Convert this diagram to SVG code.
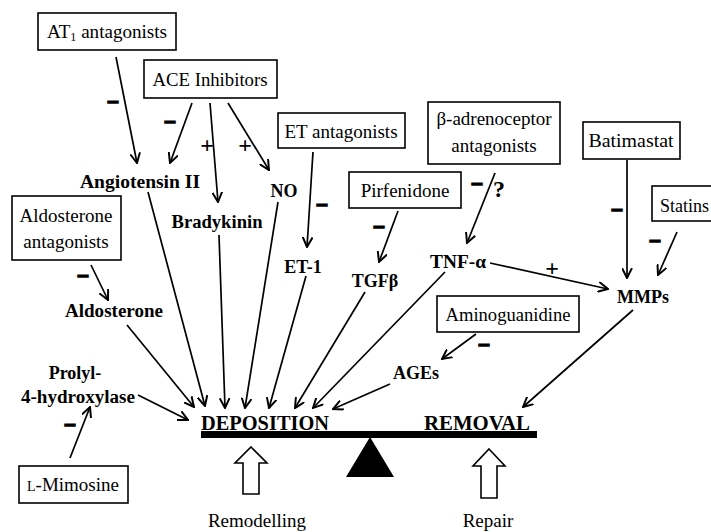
<svg xmlns="http://www.w3.org/2000/svg" width="711" height="532" viewBox="0 0 711 532">
<defs>
<marker id="ah" viewBox="0 0 10 10" refX="9" refY="5" markerWidth="11" markerHeight="11" markerUnits="userSpaceOnUse" orient="auto">
<path d="M0,0.5 L9,5 L0,9.5" fill="none" stroke="#000" stroke-width="1.8"/>
</marker>
<style>
.box{fill:#fff;stroke:#000;stroke-width:1.6}
.bt{font-family:"Liberation Serif","Times New Roman",serif;font-size:19px;fill:#000;text-anchor:middle}
.lb{font-family:"Liberation Serif","Times New Roman",serif;font-size:18px;font-weight:bold;fill:#000;text-anchor:middle}
.big{font-family:"Liberation Serif","Times New Roman",serif;font-size:21px;font-weight:bold;fill:#000;text-anchor:middle}
.sg{font-family:"Liberation Serif","Times New Roman",serif;font-size:21px;font-weight:bold;fill:#000;stroke:#000;stroke-width:1.8;text-anchor:middle}
.pl{font-family:"Liberation Serif","Times New Roman",serif;font-size:24px;font-weight:bold;fill:#000;text-anchor:middle}
.cn line{stroke:#000;stroke-width:1.7;marker-end:url(#ah)}
</style>
</defs>
<rect width="711" height="532" fill="#fff"/>

<g id="at1"><rect class="box" x="38" y="13" width="138" height="37"/><text class="bt" x="107" y="38" textLength="120" lengthAdjust="spacingAndGlyphs">AT<tspan font-size="12" dy="3">1</tspan><tspan dy="-3"> antagonists</tspan></text></g>
<g id="ace"><rect class="box" x="144" y="60" width="133" height="38"/><text class="bt" x="210" y="86" textLength="115" lengthAdjust="spacingAndGlyphs">ACE Inhibitors</text></g>
<g id="etant"><rect class="box" x="278" y="113" width="127" height="35"/><text class="bt" x="341" y="138">ET antagonists</text></g>
<g id="beta"><rect class="box" x="428" y="102" width="132" height="62"/><text class="bt" x="494" y="125">β-adrenoceptor</text><text class="bt" x="494" y="152">antagonists</text></g>
<g id="batimastat"><rect class="box" x="583" y="122" width="97" height="37"/><text class="bt" x="631" y="147" textLength="85" lengthAdjust="spacingAndGlyphs">Batimastat</text></g>
<g id="pirfenidone"><rect class="box" x="349" y="172" width="112" height="36"/><text class="bt" x="405" y="197">Pirfenidone</text></g>
<g id="statins"><rect class="box" x="652" y="186" width="80" height="35"/><text class="bt" x="660" y="212" style="text-anchor:start" textLength="49" lengthAdjust="spacingAndGlyphs">Statins</text></g>
<g id="aldoant"><rect class="box" x="12" y="196" width="109" height="64"/><text class="bt" x="66" y="222">Aldosterone</text><text class="bt" x="66" y="248">antagonists</text></g>
<g id="aminoguanidine"><rect class="box" x="437" y="296" width="142" height="36"/><text class="bt" x="508" y="321" textLength="125" lengthAdjust="spacingAndGlyphs">Aminoguanidine</text></g>
<g id="mimosine"><rect class="box" x="19" y="466" width="109" height="37"/><text class="bt" x="73" y="491"><tspan font-size="14">L</tspan>-Mimosine</text></g>

<g id="angiotensin"><text class="lb" x="140" y="188" textLength="120" lengthAdjust="spacingAndGlyphs">Angiotensin II</text></g>
<g id="bradykinin"><text class="lb" x="217" y="228" textLength="91" lengthAdjust="spacingAndGlyphs">Bradykinin</text></g>
<g id="no"><text class="lb" x="284" y="197">NO</text></g>
<g id="et1"><text class="lb" x="303" y="273">ET-1</text></g>
<g id="tgf"><text class="lb" x="375" y="287">TGFβ</text></g>
<g id="tnf"><text class="lb" x="458" y="268" textLength="56" lengthAdjust="spacingAndGlyphs">TNF-α</text></g>
<g id="mmps"><text class="lb" x="643" y="303">MMPs</text></g>
<g id="ages"><text class="lb" x="416" y="379">AGEs</text></g>
<g id="aldosterone"><text class="lb" x="114" y="317" textLength="98" lengthAdjust="spacingAndGlyphs">Aldosterone</text></g>
<g id="prolyl"><text class="lb" x="75" y="379">Prolyl-</text><text class="lb" x="78" y="403" textLength="114" lengthAdjust="spacingAndGlyphs">4-hydroxylase</text></g>

<g id="balance">
<rect x="201" y="431" width="336" height="7" fill="#000"/>
<polygon points="370,437 346,477 394,477" fill="#000"/>
<text class="big" x="265" y="430" text-decoration="underline" textLength="128" lengthAdjust="spacingAndGlyphs">DEPOSITION</text>
<text class="big" x="477" y="430" text-decoration="underline" textLength="106" lengthAdjust="spacingAndGlyphs">REMOVAL</text>
</g>
<g id="remodelling">
<path d="M251,447 L267,463 L259,463 L259,494 L243,494 L243,463 L235,463 Z" fill="#fff" stroke="#000" stroke-width="1.6"/>
<text class="bt" x="257" y="527">Remodelling</text>
</g>
<g id="repair">
<path d="M489,449 L505,466 L497,466 L497,498 L481,498 L481,466 L473,466 Z" fill="#fff" stroke="#000" stroke-width="1.6"/>
<text class="bt" x="488" y="527">Repair</text>
</g>

<g id="connectors" class="cn">
<line x1="116" y1="57" x2="137" y2="163"/>
<line x1="192" y1="103" x2="170" y2="163"/>
<line x1="210" y1="103" x2="218" y2="202"/>
<line x1="228" y1="103" x2="269" y2="170"/>
<line x1="313" y1="152" x2="307" y2="247"/>
<line x1="398" y1="211" x2="379" y2="262"/>
<line x1="495" y1="173" x2="467" y2="243"/>
<line x1="627" y1="160" x2="627" y2="278"/>
<line x1="677" y1="232" x2="658" y2="275"/>
<line x1="490" y1="263" x2="608" y2="289"/>
<line x1="476" y1="334" x2="442" y2="359"/>
<line x1="91" y1="265" x2="108" y2="300"/>
<line x1="70" y1="458" x2="90" y2="407"/>
<line x1="633" y1="310" x2="523" y2="407"/>
<line x1="138" y1="395" x2="188" y2="420"/>
<line x1="127" y1="325" x2="194" y2="407"/>
<line x1="148" y1="192" x2="205" y2="406"/>
<line x1="219" y1="235" x2="225" y2="408"/>
<line x1="278" y1="202" x2="245" y2="408"/>
<line x1="306" y1="276" x2="269" y2="408"/>
<line x1="365" y1="292" x2="295" y2="408"/>
<line x1="445" y1="272" x2="313" y2="408"/>
<line x1="390" y1="384" x2="333" y2="409"/>
</g>

<g id="signs">
<text class="sg" x="113" y="109">−</text>
<text class="sg" x="170" y="129">−</text>
<text class="pl" x="207" y="153">+</text>
<text class="pl" x="245" y="153">+</text>
<text class="sg" x="322" y="212">−</text>
<text class="sg" x="379" y="234">−</text>
<text class="sg" x="477" y="191">−</text>
<text class="pl" x="499" y="197" font-size="20">?</text>
<text class="sg" x="617" y="217">−</text>
<text class="sg" x="655" y="248">−</text>
<text class="pl" x="552" y="276">+</text>
<text class="sg" x="484" y="352">−</text>
<text class="sg" x="83" y="283">−</text>
<text class="sg" x="70" y="432">−</text>
</g>
</svg>
